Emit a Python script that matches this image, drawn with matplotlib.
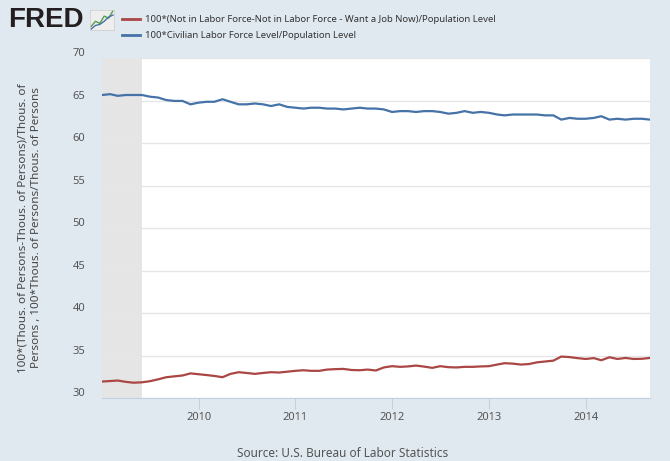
import matplotlib
matplotlib.use('Agg')
import matplotlib.pyplot as plt
import matplotlib.dates as mdates
import matplotlib.transforms as mtransforms
import pandas as pd

plt.rcParams['font.family'] = ['Noto Sans', 'DejaVu Sans']

# monthly observations, Jan 2009 - Sep 2014
start_month = '2009-01-01'
recession_start = '2009-01-01'
recession_end = '2009-06-01'

not_in_lf_share = [
    31.94, 32.0, 32.06, 31.9, 31.8, 31.85, 31.98, 32.2, 32.45, 32.55, 32.65, 32.9,
    32.8, 32.7, 32.6, 32.45, 32.84, 33.04, 32.95, 32.84, 32.95, 33.04, 33.0, 33.1,
    33.2, 33.27, 33.2, 33.2, 33.35, 33.4, 33.43, 33.3, 33.27, 33.35, 33.24, 33.6,
    33.75, 33.67, 33.72, 33.82, 33.7, 33.55, 33.75, 33.63, 33.6, 33.67, 33.67, 33.72,
    33.75, 33.94, 34.1, 34.05, 33.94, 34.0, 34.2, 34.3, 34.4, 34.88, 34.82, 34.7,
    34.6, 34.7, 34.45, 34.8, 34.6, 34.72, 34.6, 34.62, 34.72,
]
labor_force_share = [
    65.7, 65.8, 65.6, 65.7, 65.7, 65.7, 65.5, 65.4, 65.1, 65.0, 65.0, 64.6,
    64.8, 64.9, 64.9, 65.2, 64.9, 64.6, 64.6, 64.7, 64.6, 64.4, 64.6, 64.3,
    64.2, 64.1, 64.2, 64.2, 64.1, 64.1, 64.0, 64.1, 64.2, 64.1, 64.1, 64.0,
    63.7, 63.8, 63.8, 63.7, 63.8, 63.8, 63.7, 63.5, 63.6, 63.8, 63.6, 63.7,
    63.6, 63.4, 63.3, 63.4, 63.4, 63.4, 63.4, 63.3, 63.3, 62.8, 63.0, 62.9,
    62.9, 63.0, 63.2, 62.8, 62.9, 62.8, 62.9, 62.9, 62.8,
]
y_ticks = [30, 35, 40, 45, 50, 55, 60, 65, 70]
x_years = ['2010', '2011', '2012', '2013', '2014']

legend_labels = [
    '100*(Not in Labor Force-Not in Labor Force - Want a Job Now)/Population Level',
    '100*Civilian Labor Force Level/Population Level',
]
y_label = ('100*(Thous. of Persons-Thous. of Persons)/Thous. of\n'
           'Persons , 100*Thous. of Persons/Thous. of Persons')
source = 'Source: U.S. Bureau of Labor Statistics'

# logo icon
icon_a = [1, 2, 1.6, 3, 2.6, 4]
icon_b = [0.5, 1.2, 1.4, 2.0, 2.8, 3.2]

BG = '#E1E9F0'
RED = '#AA4643'
BLUE = '#4572A7'
TEXT = '#333333'

dates = pd.date_range(start_month, periods=len(labor_force_share), freq='MS')

fig = plt.figure(figsize=(6.7, 4.61), dpi=100, facecolor=BG)
ax = fig.add_axes([102 / 670, 1 - 398 / 461, 548 / 670, 339.5 / 461])
ax.set_facecolor('white')

ax.axvspan(pd.Timestamp(recession_start), pd.Timestamp(recession_end),
           color='#E5E5E5', zorder=0, lw=0)
ax.plot(dates, not_in_lf_share, color=RED, lw=1.6, zorder=3)
ax.plot(dates, labor_force_share, color=BLUE, lw=1.6, zorder=3)

ax.set_xlim(dates[0], dates[-1])
ax.set_ylim(30, 70)
ax.set_yticks(y_ticks)
ax.grid(axis='y', color='#E6E6E6', lw=1, zorder=1)
ax.set_axisbelow(True)

ax.set_xticks([pd.Timestamp(y + '-01-01') for y in x_years])
ax.xaxis.set_major_formatter(mdates.DateFormatter('%Y'))

for s in ['top', 'left', 'right']:
    ax.spines[s].set_visible(False)
ax.spines['bottom'].set_color('#C0D0E0')
ax.tick_params(axis='x', length=8, color='#C0D0E0', labelsize=8,
               labelcolor='#555555', pad=2)
ax.tick_params(axis='y', length=0, labelsize=8, labelcolor='#555555', pad=12)

shift = mtransforms.ScaledTranslation(0, 6 / 100, fig.dpi_scale_trans)
for lbl in ax.get_yticklabels():
    lbl.set_transform(lbl.get_transform() + shift)

fig.text(30 / 670, 1 - 228 / 461, y_label, rotation=90, ha='center',
         va='center', fontsize=8.4, color='#444444', multialignment='center',
         linespacing=1.3)

# legend
fig.lines.append(plt.Line2D([122 / 670, 140 / 670], [1 - 19 / 461, 1 - 19 / 461],
                            color=RED, lw=2, transform=fig.transFigure))
fig.lines.append(plt.Line2D([122 / 670, 140 / 670], [1 - 35 / 461, 1 - 35 / 461],
                            color=BLUE, lw=2, transform=fig.transFigure))
fig.text(145 / 670, 1 - 19 / 461, legend_labels[0], fontsize=6.85, color=TEXT,
         va='center')
fig.text(145 / 670, 1 - 35 / 461, legend_labels[1], fontsize=6.85, color=TEXT,
         va='center')

# FRED logo
fig.text(8 / 670, 1 - 20 / 461, 'FRED', fontsize=20, fontweight='bold',
         family='Liberation Sans', color='#231F20', va='center')
icon = fig.add_axes([90 / 670, 1 - 30 / 461, 24 / 670, 20 / 461])
icon.set_facecolor('#EEEEEE')
icon.plot(icon_a, color='#5A9E4B', lw=1)
icon.plot(icon_b, color='#4572A7', lw=1)
icon.set_xticks([])
icon.set_yticks([])
for s in icon.spines.values():
    s.set_color('#CCCCCC')
    s.set_linewidth(0.5)

fig.text(343 / 670, 1 - 453 / 461, source, fontsize=8.5, color='#555555',
         ha='center', va='center')

fig.savefig('out.png', dpi=100, facecolor=BG)
